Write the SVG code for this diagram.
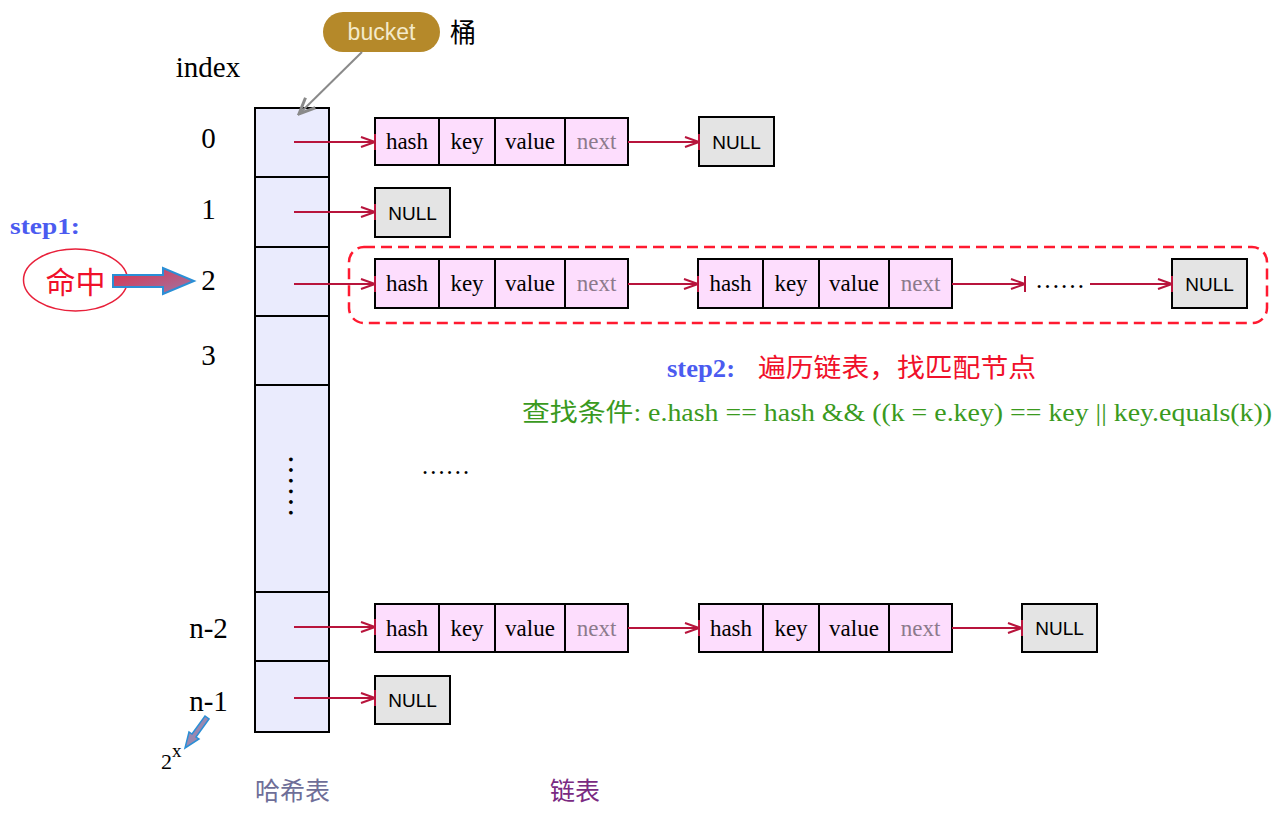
<svg xmlns="http://www.w3.org/2000/svg" width="1284" height="818" viewBox="0 0 1284 818">
<style>
.cell{fill:#EAEBFD;stroke:#000;stroke-width:2}
.nd{fill:#FDDDFD;stroke:#000;stroke-width:2}
.nul{fill:#E4E4E4;stroke:#000;stroke-width:2}
.t{font-family:"Liberation Serif","Noto Sans CJK SC",serif;font-size:23px;fill:#000;text-anchor:middle}
.nx{fill:#8C7A8C}
.ns{font-family:"Liberation Sans",Arial,sans-serif;font-size:19px;fill:#000;text-anchor:middle}
.idx{font-family:"Liberation Serif",serif;font-size:29px;fill:#000;text-anchor:middle}
.cn{font-family:"Noto Sans CJK SC",sans-serif}
.con{stroke:#B8143C;stroke-width:2;fill:none;marker-end:url(#ah)}
</style>
<defs>
<marker id="ah" markerUnits="userSpaceOnUse" viewBox="0 0 16 18" refX="15" refY="9" markerWidth="16" markerHeight="18" orient="auto">
<path d="M1,4 L15,9 L1,14" fill="none" stroke="#B8143C" stroke-width="2"/>
<path d="M15,1 L15,17" stroke="#B8143C" stroke-width="2"/>
</marker>
<marker id="gh" markerUnits="userSpaceOnUse" viewBox="0 0 20 20" refX="18" refY="10" markerWidth="20" markerHeight="20" orient="auto">
<path d="M2,3 L18,10 L2,17" fill="none" stroke="#8A8A8A" stroke-width="3"/>
</marker>
<linearGradient id="bg" x1="0" y1="0" x2="1" y2="1">
<stop offset="0" stop-color="#E0304A"/>
<stop offset="1" stop-color="#9A78A8"/>
</linearGradient>
</defs>

<g id="bucket">
<rect x="323" y="12" width="117" height="40" rx="20" fill="#B5892A"/>
<text x="381.5" y="40" font-family="Liberation Sans,Arial,sans-serif" font-size="23" fill="#F3EACB" text-anchor="middle">bucket</text>
<text x="463" y="42" class="cn" font-size="26" text-anchor="middle" fill="#000">桶</text>
</g>
<text x="208" y="77" class="idx" font-size="30">index</text>

<g id="hashtable">
<rect class="cell" x="255" y="108" width="74" height="69"/>
<rect class="cell" x="255" y="177" width="74" height="70"/>
<rect class="cell" x="255" y="247" width="74" height="69"/>
<rect class="cell" x="255" y="316" width="74" height="69"/>
<rect class="cell" x="255" y="385" width="74" height="207"/>
<rect class="cell" x="255" y="592" width="74" height="69"/>
<rect class="cell" x="255" y="661" width="74" height="71"/>
<text transform="translate(289,454) rotate(90)" font-family="Liberation Serif,serif" font-size="32" fill="#000">……</text>
</g>

<g id="labels">
<text x="208.5" y="148" class="idx">0</text>
<text x="208.5" y="219" class="idx">1</text>
<text x="208.5" y="290" class="idx">2</text>
<text x="208.5" y="365" class="idx">3</text>
<text x="208.5" y="638" class="idx">n-2</text>
<text x="208.5" y="711" class="idx">n-1</text>
</g>

<g id="node-0a">
<rect class="nd" x="375" y="118" width="64" height="47"/><rect class="nd" x="439" y="118" width="56" height="47"/><rect class="nd" x="495" y="118" width="70" height="47"/><rect class="nd" x="565" y="118" width="63" height="47"/>
<text class="t" x="407" y="149">hash</text><text class="t" x="467" y="149">key</text><text class="t" x="530" y="149">value</text><text class="t nx" x="596.5" y="149">next</text>
</g>
<g id="null-0"><rect class="nul" x="699" y="117" width="75" height="49"/><text class="ns" x="736.5" y="149">NULL</text></g>
<g id="null-1"><rect class="nul" x="375" y="188" width="75" height="49"/><text class="ns" x="412.5" y="220">NULL</text></g>

<g id="node-2a">
<rect class="nd" x="375" y="259" width="64" height="49"/><rect class="nd" x="439" y="259" width="56" height="49"/><rect class="nd" x="495" y="259" width="70" height="49"/><rect class="nd" x="565" y="259" width="63" height="49"/>
<text class="t" x="407" y="291">hash</text><text class="t" x="467" y="291">key</text><text class="t" x="530" y="291">value</text><text class="t nx" x="596.5" y="291">next</text>
</g>
<g id="node-2b">
<rect class="nd" x="698" y="259" width="65" height="49"/><rect class="nd" x="763" y="259" width="56" height="49"/><rect class="nd" x="819" y="259" width="70" height="49"/><rect class="nd" x="889" y="259" width="63" height="49"/>
<text class="t" x="730.5" y="291">hash</text><text class="t" x="791" y="291">key</text><text class="t" x="854" y="291">value</text><text class="t nx" x="920.5" y="291">next</text>
</g>
<text x="1035" y="288" font-family="Liberation Serif,serif" font-size="25" fill="#000">……</text>
<g id="null-2"><rect class="nul" x="1172" y="259" width="75" height="49"/><text class="ns" x="1209.5" y="291">NULL</text></g>
<rect id="highlight" x="349" y="247" width="918" height="76" rx="15" fill="none" stroke="#FF1A30" stroke-width="2.5" stroke-dasharray="11 6"/>

<g id="node-n2a">
<rect class="nd" x="375" y="604" width="64" height="48"/><rect class="nd" x="439" y="604" width="56" height="48"/><rect class="nd" x="495" y="604" width="70" height="48"/><rect class="nd" x="565" y="604" width="63" height="48"/>
<text class="t" x="407" y="636">hash</text><text class="t" x="467" y="636">key</text><text class="t" x="530" y="636">value</text><text class="t nx" x="596.5" y="636">next</text>
</g>
<g id="node-n2b">
<rect class="nd" x="699" y="604" width="64" height="48"/><rect class="nd" x="763" y="604" width="56" height="48"/><rect class="nd" x="819" y="604" width="70" height="48"/><rect class="nd" x="889" y="604" width="63" height="48"/>
<text class="t" x="731" y="636">hash</text><text class="t" x="791" y="636">key</text><text class="t" x="854" y="636">value</text><text class="t nx" x="920.5" y="636">next</text>
</g>
<g id="null-n2"><rect class="nul" x="1022" y="604" width="75" height="48"/><text class="ns" x="1059.5" y="635">NULL</text></g>
<g id="null-n1"><rect class="nul" x="375" y="676" width="75" height="48"/><text class="ns" x="412.5" y="707">NULL</text></g>

<text x="421" y="474" font-family="Liberation Serif,serif" font-size="24.6" fill="#000">……</text>

<g id="connectors">
<line class="con" x1="294" y1="142" x2="375" y2="142"/>
<line class="con" x1="628" y1="142" x2="699" y2="142"/>
<line class="con" x1="294" y1="212" x2="375" y2="212"/>
<line class="con" x1="294" y1="284" x2="375" y2="284"/>
<line class="con" x1="628" y1="284" x2="698" y2="284"/>
<line class="con" x1="952" y1="284" x2="1025" y2="284"/>
<line class="con" x1="1090" y1="284" x2="1172" y2="284"/>
<line class="con" x1="294" y1="627" x2="375" y2="627"/>
<line class="con" x1="628" y1="628" x2="699" y2="628"/>
<line class="con" x1="952" y1="628" x2="1022" y2="628"/>
<line class="con" x1="294" y1="698" x2="375" y2="698"/>
<line x1="362" y1="52" x2="299" y2="114" stroke="#8A8A8A" stroke-width="2" marker-end="url(#gh)"/>
</g>

<g id="step1">
<text x="10" y="234" font-family="Liberation Serif,serif" font-weight="bold" font-size="24" fill="#4B5BF0" textLength="70" lengthAdjust="spacingAndGlyphs">step1:</text>
<ellipse cx="75.5" cy="280" rx="52" ry="31" fill="#fff" stroke="#E8203A" stroke-width="1.5"/>
<text x="75.5" y="293" class="cn" font-size="30" fill="#F0102A" text-anchor="middle">命中</text>
<path d="M113,275 L163,275 L163,268 L194,281 L163,294 L163,287 L113,287 Z" fill="url(#bg)" stroke="#2A8FD6" stroke-width="2"/>
</g>

<g id="step2">
<text x="667" y="377" font-family="Liberation Serif,serif" font-weight="bold" font-size="25" fill="#4B5BF0" textLength="68" lengthAdjust="spacingAndGlyphs">step2:</text>
<text x="758" y="377" class="cn" font-size="26" fill="#F0102A" textLength="278" lengthAdjust="spacingAndGlyphs">遍历链表，找匹配节点</text>
<text x="522" y="421" font-family="Liberation Serif,'Noto Sans CJK SC',serif" font-size="25" fill="#3A9A1E" textLength="750" lengthAdjust="spacingAndGlyphs">查找条件: e.hash == hash &amp;&amp; ((k = e.key) == key || key.equals(k))</text>
</g>

<g id="power">
<path d="M209,719 L196,737 L199,739 L185,748 L189,732 L192,734 L205,716 Z" fill="#9A88B0" stroke="#2A8FD6" stroke-width="1.5"/>
<text x="161" y="769" font-family="Liberation Serif,serif" font-size="22" fill="#000">2</text>
<text x="172" y="757" font-family="Liberation Serif,serif" font-size="19" fill="#000">x</text>
</g>

<text x="292.5" y="800" class="cn" font-size="25" fill="#6E6E98" text-anchor="middle">哈希表</text>
<text x="575" y="800" class="cn" font-size="25" fill="#7A2A82" text-anchor="middle">链表</text>
</svg>
